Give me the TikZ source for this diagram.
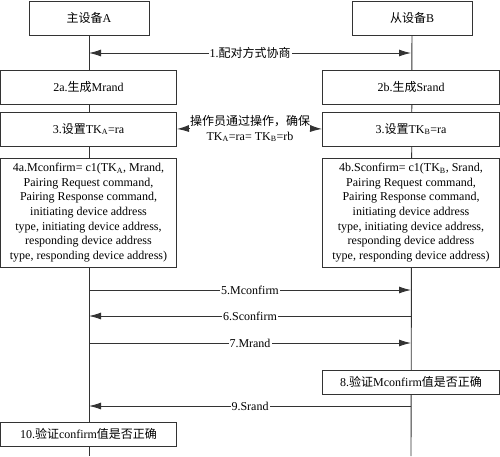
\documentclass[tikz,border=0pt]{standalone}
\usepackage{fontspec}
\setmainfont{Liberation Serif}
\newfontfamily\cjk{Noto Sans CJK SC}
\usetikzlibrary{arrows.meta}
\pgfdeclarelayer{bg}\pgfsetlayers{bg,main}
\begin{document}
\begin{tikzpicture}[x=1pt,y=-1pt,
 box/.style={draw=black!80, fill=white, line width=0.9pt, inner sep=0pt, align=center, font=\fontsize{12}{14.7}\selectfont},
 msg/.style={draw=black!80, line width=0.9pt, -{Latex[length=12pt,width=7pt]}},
 dmsg/.style={draw=black!80, line width=0.9pt, {Latex[length=12pt,width=7pt]}-{Latex[length=12pt,width=7pt]}},
 lbl/.style={fill=white, inner sep=1pt, font=\fontsize{12}{14}\selectfont},
 life/.style={draw=black!80, line width=0.9pt}]
\useasboundingbox (0,0) rectangle (500,456);
% boxes
\node[box, minimum width=120pt, minimum height=34pt] (A) at (89,18) {{\cjk 主设备}A};
\node[box, minimum width=120pt, minimum height=34pt] (B) at (412,18) {{\cjk 从设备}B};
\node[box, minimum width=176pt, minimum height=34pt] (a2) at (88.5,87) {2a.{\cjk 生成}Mrand};
\node[box, minimum width=177pt, minimum height=34pt] (b2) at (411,87) {2b.{\cjk 生成}Srand};
\node[box, minimum width=176pt, minimum height=34pt] (a3) at (88.5,129) {3.{\cjk 设置}TK\textsubscript{A}=ra};
\node[box, minimum width=177pt, minimum height=34pt] (b3) at (411,129) {3.{\cjk 设置}TK\textsubscript{B}=ra};
\node[box, minimum width=176pt, minimum height=109pt] (a4) at (88.5,212.5) {4a.Mconfirm= c1(TK\textsubscript{A}, Mrand,\\Pairing Request command,\\Pairing Response command,\\initiating device address\\type, initiating device address,\\responding device address\\type, responding device address)};
\node[box, minimum width=177pt, minimum height=109pt] (b4) at (411,212.5) {4b.Sconfirm= c1(TK\textsubscript{B}, Srand,\\Pairing Request command,\\Pairing Response command,\\initiating device address\\type, initiating device address,\\responding device address\\type, responding device address)};
\node[box, minimum width=177pt, minimum height=24pt] (b8) at (411,382) {8.{\cjk 验证}Mconfirm{\cjk 值是否正确}};
\node[box, minimum width=176pt, minimum height=24pt] (a10) at (88.5,434) {10.{\cjk 验证}confirm{\cjk 值是否正确}};
% operator text
\node[align=center, inner sep=0pt, font=\fontsize{12}{15}\selectfont] (op) at (250,128.5) {{\cjk 操作员通过操作，确保}\\TK\textsubscript{A}=ra= TK\textsubscript{B}=rb};
\draw[msg] (op.west) -- (a3.east);
\draw[msg] (op.east) -- (b3.west);
% lifelines
\coordinate (Lend) at (89,456);
\coordinate (Rend) at (411,456);
\begin{pgfonlayer}{bg}
\draw[life] (A) -- (Lend);
\draw[life] (B) -- (Rend);
\end{pgfonlayer}
% messages
\coordinate (L1) at (89,53);  \coordinate (R1) at (411,53);
\coordinate (L5) at (89,290); \coordinate (R5) at (411,290);
\coordinate (L6) at (89,316); \coordinate (R6) at (411,316);
\coordinate (L7) at (89,343); \coordinate (R7) at (411,343);
\coordinate (L9) at (89,406); \coordinate (R9) at (411,406);
\draw[dmsg] (L1) -- node[lbl] {1.{\cjk 配对方式协商}} (R1);
\draw[msg] (L5) -- node[lbl] {5.Mconfirm} (R5);
\draw[msg] (R6) -- node[lbl] {6.Sconfirm} (L6);
\draw[msg] (L7) -- node[lbl] {7.Mrand} (R7);
\draw[msg] (R9) -- node[lbl] {9.Srand} (L9);
\end{tikzpicture}
\end{document}
